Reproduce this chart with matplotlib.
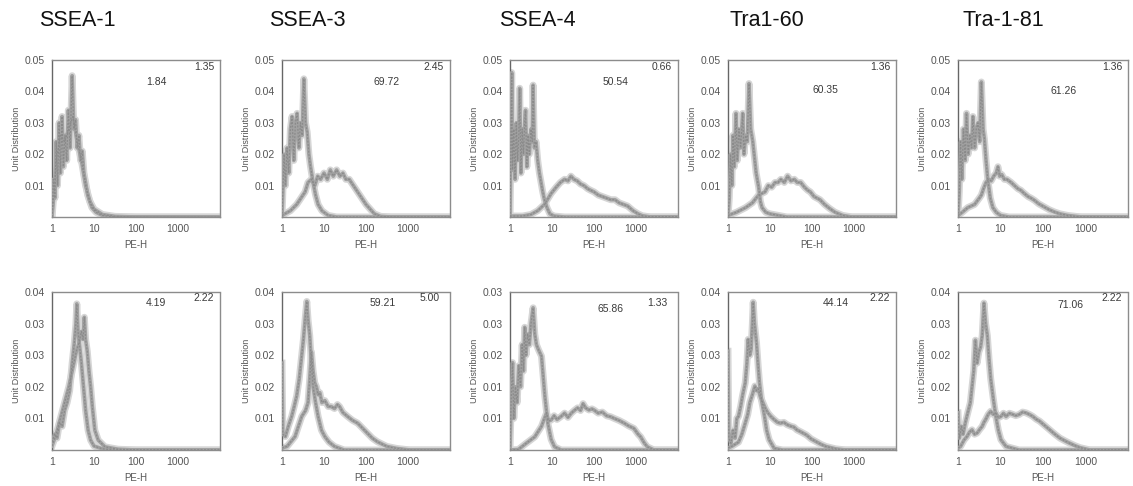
import numpy as np
import matplotlib
matplotlib.use("Agg")
import matplotlib.pyplot as plt

# ---------------- data ----------------
markers = ["SSEA-1", "SSEA-3", "SSEA-4", "Tra1-60", "Tra-1-81"]

# percentages printed in each panel: (main value, corner value)
row1_main = ["1.84", "69.72", "50.54", "60.35", "61.26"]
row1_corner = ["1.35", "2.45", "0.66", "1.36", "1.36"]
row2_main = ["4.19", "59.21", "65.86", "44.14", "71.06"]
row2_corner = ["2.22", "5.00", "1.33", "2.22", "2.22"]

row1_ymax = [0.05, 0.05, 0.05, 0.05, 0.05]
row2_ymax = [0.04, 0.04, 0.03, 0.04, 0.04]

row1_yticklabels = ["0.01", "0.02", "0.03", "0.04", "0.05"]
row2_yticklabels = [["0.01", "0.02", "0.03", "0.03", "0.04"],
                    ["0.01", "0.02", "0.02", "0.03", "0.04"],
                    ["0.01", "0.01", "0.02", "0.03", "0.03"],
                    ["0.01", "0.02", "0.03", "0.03", "0.04"],
                    ["0.01", "0.02", "0.02", "0.03", "0.04"]]
xtick_values = [1, 10, 100, 1000]
xtick_labels = ["1", "10", "100", "1000"]

# curves: log10(PE-H) positions and unit distribution values (x 1e-3)
# ---- row 1 ----
r1c1_ctrl_lx = [0, 0.03, 0.07, 0.1, 0.13, 0.17, 0.2, 0.24, 0.27, 0.31, 0.35, 0.39, 0.43, 0.48, 0.52, 0.56, 0.6, 0.64, 0.68, 0.72, 0.76, 0.8, 0.85, 0.9, 0.95, 1.05, 1.2, 1.5, 4]
r1c1_ctrl_y = [0, 12, 6, 24, 10, 30, 14, 32, 16, 26, 18, 34, 22, 45, 28, 31, 22, 26, 18, 21, 14, 11, 7, 5, 3, 1.5, 0.5, 0, 0]
r1c1_samp_lx = [0, 0.05, 0.1, 0.15, 0.2, 0.3, 0.4, 0.5, 0.6, 0.7, 0.8, 0.9, 1.0, 1.2, 1.5, 2.0, 4]
r1c1_samp_y = [0, 8, 18, 22, 26, 24, 28, 32, 24, 18, 10, 5, 2.5, 0.8, 0.2, 0, 0]

r1c2_ctrl_lx = [0, 0.02, 0.05, 0.08, 0.12, 0.16, 0.2, 0.24, 0.28, 0.32, 0.36, 0.4, 0.44, 0.48, 0.52, 0.56, 0.6, 0.64, 0.68, 0.74, 0.8, 0.86, 0.95, 1.1, 1.3, 4]
r1c2_ctrl_y = [0, 8, 20, 10, 22, 14, 28, 32, 18, 30, 33, 22, 30, 26, 44, 30, 27, 20, 16, 11, 7, 4, 2, 0.5, 0, 0]
r1c2_samp_lx = [0, 0.2, 0.35, 0.45, 0.55, 0.62, 0.7, 0.78, 0.85, 0.92, 1.0, 1.08, 1.15, 1.22, 1.3, 1.38, 1.45, 1.52, 1.6, 1.7, 1.8, 1.9, 2.0, 2.1, 2.2, 2.35, 2.6, 4]
r1c2_samp_y = [0.5, 2, 4, 6, 8, 11, 12, 10, 13, 12, 14, 12, 15, 13, 15, 13, 14, 12, 12, 10, 8, 6, 4, 2.5, 1, 0.2, 0, 0]

r1c3_ctrl_lx = [0, 0.02, 0.04, 0.06, 0.09, 0.12, 0.15, 0.18, 0.21, 0.23, 0.26, 0.29, 0.32, 0.35, 0.37, 0.4, 0.43, 0.46, 0.5, 0.53, 0.55, 0.58, 0.62, 0.66, 0.7, 0.74, 0.78, 0.82, 0.88, 0.95, 1.05, 1.3, 4]
r1c3_ctrl_y = [0, 20, 46, 15, 28, 12, 30, 18, 26, 41, 14, 28, 20, 30, 34, 16, 26, 20, 28, 24, 42, 22, 24, 18, 14, 11, 8, 5.5, 3, 1, 0.3, 0, 0]
r1c3_samp_lx = [0, 0.3, 0.5, 0.66, 0.82, 0.98, 1.1, 1.2, 1.3, 1.38, 1.45, 1.52, 1.6, 1.68, 1.76, 1.85, 1.92, 2.0, 2.1, 2.2, 2.3, 2.4, 2.5, 2.6, 2.7, 2.8, 2.93, 3.05, 3.15, 3.35, 4]
r1c3_samp_y = [0.3, 0.3, 0.8, 2, 4, 7.5, 9.5, 11, 12, 11.5, 13, 12, 11.5, 10.5, 10, 9, 8.5, 8, 7, 6.5, 6, 5.5, 5.5, 4.5, 4, 3.5, 2, 1, 0.4, 0, 0]

r1c4_ctrl_lx = [0, 0.03, 0.06, 0.09, 0.12, 0.15, 0.19, 0.22, 0.26, 0.3, 0.35, 0.38, 0.42, 0.46, 0.5, 0.54, 0.59, 0.63, 0.67, 0.73, 0.77, 0.81, 0.9, 1.0, 1.2, 1.4, 4]
r1c4_ctrl_y = [0, 6, 20, 10, 26, 16, 33, 18, 28, 22, 33, 20, 26, 24, 42.5, 28, 24, 19, 14, 9.5, 5, 3, 1.5, 1, 0.5, 0, 0]
r1c4_samp_lx = [0, 0.2, 0.42, 0.58, 0.73, 0.88, 0.96, 1.04, 1.12, 1.19, 1.26, 1.34, 1.42, 1.5, 1.58, 1.65, 1.73, 1.82, 1.9, 1.96, 2.05, 2.12, 2.19, 2.3, 2.42, 2.55, 2.73, 2.95, 4]
r1c4_samp_y = [0.5, 1.5, 3, 4.5, 7, 8, 10, 9.5, 11, 11, 12, 11, 13, 11.5, 12, 11, 11, 9.5, 8.5, 8, 6.5, 6, 5.5, 4, 2.7, 1.5, 0.5, 0, 0]

r1c5_ctrl_lx = [0, 0.03, 0.06, 0.09, 0.13, 0.17, 0.2, 0.24, 0.28, 0.32, 0.35, 0.39, 0.43, 0.47, 0.51, 0.55, 0.59, 0.62, 0.66, 0.7, 0.76, 0.82, 0.9, 1.0, 1.2, 4]
r1c5_ctrl_y = [0, 8, 24, 12, 28, 18, 33, 20, 26, 22, 32, 22, 28, 30, 24, 43, 28, 25, 18, 12, 6, 3, 1.5, 0.5, 0, 0]
r1c5_samp_lx = [0, 0.1, 0.23, 0.39, 0.5, 0.55, 0.6, 0.66, 0.72, 0.78, 0.84, 0.9, 0.94, 0.98, 1.03, 1.09, 1.15, 1.2, 1.25, 1.33, 1.41, 1.48, 1.56, 1.65, 1.72, 1.8, 1.9, 2.03, 2.15, 2.27, 2.4, 2.58, 2.9, 4]
r1c5_samp_y = [0.5, 1.5, 3, 4, 6, 7, 9, 11, 12, 11.5, 13, 14, 16, 13, 13.5, 12, 12, 11.5, 11, 10, 9, 8.5, 7.5, 6.5, 6, 5.3, 4.2, 3.2, 2.3, 1.6, 1, 0.5, 0, 0]

# ---- row 2 ----
r2c1_ctrl_lx = [0, 0.06, 0.12, 0.18, 0.24, 0.3, 0.36, 0.42, 0.48, 0.53, 0.57, 0.59, 0.62, 0.66, 0.7, 0.75, 0.8, 0.86, 0.92, 1.0, 1.2, 1.5, 4]
r2c1_ctrl_y = [2, 4, 3, 7, 6, 10, 12, 15, 22, 27, 32, 37, 30, 26, 22, 16, 10, 5, 2.5, 1, 0.3, 0, 0]
r2c1_samp_lx = [0, 0.1, 0.2, 0.3, 0.4, 0.5, 0.58, 0.64, 0.7, 0.74, 0.77, 0.8, 0.84, 0.88, 0.92, 0.96, 1.02, 1.1, 1.26, 1.57, 2.0, 4]
r2c1_samp_y = [1, 4, 8, 12, 16, 21, 25, 27, 30, 28, 33.6, 28, 25, 20, 16, 11, 5, 2.5, 0.8, 0.2, 0, 0]

r2c2_ctrl_lx = [0, 0.02, 0.08, 0.15, 0.23, 0.29, 0.35, 0.41, 0.47, 0.51, 0.55, 0.59, 0.62, 0.66, 0.7, 0.74, 0.8, 0.86, 0.94, 1.02, 1.12, 1.25, 1.48, 4]
r2c2_ctrl_y = [22, 4, 3.4, 6, 8.5, 11, 13.7, 18, 24, 28, 33, 37.6, 33, 29, 22, 16, 12, 8.5, 5, 3.4, 2, 0.9, 0, 0]
r2c2_samp_lx = [0, 0.12, 0.31, 0.47, 0.56, 0.62, 0.66, 0.7, 0.74, 0.78, 0.82, 0.86, 0.9, 0.95, 1.02, 1.1, 1.17, 1.25, 1.32, 1.37, 1.45, 1.56, 1.68, 1.8, 1.92, 2.03, 2.15, 2.27, 2.4, 2.5, 2.73, 3.05, 4]
r2c2_samp_y = [0.5, 0.9, 3.4, 8.5, 10, 12, 18, 24.8, 20, 17, 16, 14, 14.5, 12, 12.5, 11, 11, 10.5, 11.5, 11, 9.5, 8.5, 7.5, 6.8, 5.5, 4.3, 3, 2.1, 1.4, 0.9, 0.4, 0, 0]

r2c3_ctrl_lx = [0, 0.03, 0.06, 0.09, 0.13, 0.17, 0.21, 0.25, 0.29, 0.32, 0.35, 0.38, 0.42, 0.46, 0.5, 0.55, 0.59, 0.63, 0.68, 0.75, 0.79, 0.83, 0.9, 0.98, 1.06, 1.22, 4]
r2c3_ctrl_y = [0, 10, 16.6, 6, 12, 9, 16, 12, 20, 15, 23.3, 18, 22, 20, 24, 27, 22, 20, 19, 17.8, 14, 10.2, 5.1, 2, 0.6, 0, 0]
r2c3_samp_lx = [0, 0.2, 0.39, 0.59, 0.75, 0.82, 0.87, 0.92, 0.98, 1.05, 1.12, 1.22, 1.3, 1.38, 1.46, 1.53, 1.61, 1.68, 1.74, 1.8, 1.88, 1.95, 2.0, 2.1, 2.2, 2.3, 2.4, 2.48, 2.6, 2.72, 2.82, 2.95, 3.05, 3.11, 3.2, 3.27, 3.43, 4]
r2c3_samp_y = [0, 0.1, 1.3, 2.5, 4.5, 6, 7, 5.5, 5.7, 6.5, 5.8, 6.4, 7, 6.2, 7, 7.5, 8, 7.5, 8.8, 8, 7.6, 7.8, 7.6, 7, 7.2, 6.5, 6.3, 6, 5.6, 5.1, 4.6, 4.1, 3, 2.5, 1.3, 0.6, 0, 0]

r2c4_ctrl_lx = [0, 0.02, 0.07, 0.12, 0.17, 0.21, 0.25, 0.3, 0.35, 0.41, 0.45, 0.48, 0.52, 0.55, 0.58, 0.6, 0.63, 0.68, 0.72, 0.75, 0.8, 0.87, 0.92, 0.98, 1.1, 1.3, 4]
r2c4_ctrl_y = [25, 3, 1.7, 5, 3, 8, 8.5, 11, 14, 17, 22, 28, 24, 25.5, 32, 37.4, 32, 27, 21, 17, 12.5, 8.5, 5, 2.6, 0.4, 0, 0]
r2c4_samp_lx = [0, 0.1, 0.25, 0.33, 0.41, 0.47, 0.52, 0.58, 0.64, 0.68, 0.72, 0.77, 0.83, 0.89, 0.95, 1.02, 1.1, 1.18, 1.25, 1.33, 1.41, 1.5, 1.57, 1.64, 1.75, 1.87, 1.98, 2.1, 2.22, 2.33, 2.56, 2.8, 4]
r2c4_samp_y = [0.5, 1, 2, 4, 6.8, 9, 12, 14, 16.2, 15, 15.5, 13.5, 12, 10.5, 9.4, 8.5, 7.7, 7, 6.8, 7, 6.4, 6, 5.8, 5.1, 4.5, 3.8, 2.8, 2.1, 1.4, 0.9, 0.3, 0, 0]

r2c5_ctrl_lx = [0, 0.03, 0.08, 0.12, 0.17, 0.22, 0.29, 0.33, 0.37, 0.41, 0.45, 0.49, 0.53, 0.57, 0.61, 0.65, 0.69, 0.73, 0.77, 0.83, 0.89, 0.95, 1.01, 1.13, 1.44, 4]
r2c5_ctrl_y = [9.4, 3, 6, 4, 6.8, 9, 12, 16, 20, 27.8, 22, 24.8, 26, 29, 37.2, 32, 29, 23, 18, 13, 8.5, 5, 2.6, 0.9, 0, 0]
r2c5_samp_lx = [0, 0.06, 0.14, 0.21, 0.27, 0.33, 0.39, 0.45, 0.51, 0.57, 0.61, 0.65, 0.71, 0.77, 0.83, 0.89, 0.95, 1.01, 1.07, 1.13, 1.21, 1.29, 1.36, 1.44, 1.52, 1.6, 1.68, 1.76, 1.84, 1.92, 2.04, 2.16, 2.28, 2.4, 2.52, 2.63, 2.75, 2.87, 3.11, 4]
r2c5_samp_y = [0.5, 0.9, 2.5, 3.4, 4.5, 5.1, 4, 4.3, 5.2, 6, 7, 7.7, 9, 9.8, 9, 9.4, 8.2, 8.5, 9.3, 8.5, 9.3, 9, 8.7, 9, 9.6, 9.4, 9, 8.5, 7.8, 7.3, 6.2, 5.1, 4, 3, 2.3, 1.7, 1.1, 0.6, 0, 0]

row1_curves = [
    ((r1c1_ctrl_lx, r1c1_ctrl_y), (r1c1_samp_lx, r1c1_samp_y)),
    ((r1c2_ctrl_lx, r1c2_ctrl_y), (r1c2_samp_lx, r1c2_samp_y)),
    ((r1c3_ctrl_lx, r1c3_ctrl_y), (r1c3_samp_lx, r1c3_samp_y)),
    ((r1c4_ctrl_lx, r1c4_ctrl_y), (r1c4_samp_lx, r1c4_samp_y)),
    ((r1c5_ctrl_lx, r1c5_ctrl_y), (r1c5_samp_lx, r1c5_samp_y)),
]
row2_curves = [
    ((r2c1_ctrl_lx, r2c1_ctrl_y), (r2c1_samp_lx, r2c1_samp_y)),
    ((r2c2_ctrl_lx, r2c2_ctrl_y), (r2c2_samp_lx, r2c2_samp_y)),
    ((r2c3_ctrl_lx, r2c3_ctrl_y), (r2c3_samp_lx, r2c3_samp_y)),
    ((r2c4_ctrl_lx, r2c4_ctrl_y), (r2c4_samp_lx, r2c4_samp_y)),
    ((r2c5_ctrl_lx, r2c5_ctrl_y), (r2c5_samp_lx, r2c5_samp_y)),
]

# ---------------- layout (pixels) ----------------
W, H = 1133, 486
col_left = [52, 282, 510, 728, 958]
col_width = [168, 168, 168, 168, 170]
row_top = [60, 292]
row_height = [157, 158]
title_x = [77, 307, 537, 767, 1003]
title_y = 20
main_pos_r1 = [(0.62, 0.86), (0.62, 0.86), (0.63, 0.86), (0.58, 0.81), (0.62, 0.80)]
main_pos_r2 = [(0.62, 0.93), (0.60, 0.93), (0.60, 0.89), (0.64, 0.93), (0.66, 0.92)]
corner_pos_r1 = [(0.965, 0.955)] * 5
corner_pos_r2 = [(0.965, 0.96), (0.94, 0.96), (0.94, 0.93), (0.965, 0.96), (0.965, 0.96)]

plt.rcParams['font.family'] = ['Liberation Sans', 'DejaVu Sans']
fig = plt.figure(figsize=(W / 100, H / 100), dpi=100)
fig.patch.set_facecolor('white')

txt_col = '#555555'
frame_col = '#8c8c8c'


def draw_curve(ax, lx, y):
    xv = 10 ** np.asarray(lx, dtype=float)
    yv = np.asarray(y, dtype=float) / 1000.0
    ax.plot(xv, yv, color='#d6d6d6', lw=5.0, solid_joinstyle='round', zorder=2)
    ax.plot(xv, yv, color='#a2a2a2', lw=2.6, solid_joinstyle='round', zorder=3)
    ax.plot(xv, yv, color='#8a8a8a', lw=0.9, linestyle=(0, (1.5, 1.2)), zorder=4)


for r in range(2):
    curves = row1_curves if r == 0 else row2_curves
    ymaxes = row1_ymax if r == 0 else row2_ymax
    mains = row1_main if r == 0 else row2_main
    corners = row1_corner if r == 0 else row2_corner
    mpos = main_pos_r1 if r == 0 else main_pos_r2
    cpos = corner_pos_r1 if r == 0 else corner_pos_r2
    for c in range(5):
        left = col_left[c] / W
        bottom = 1 - (row_top[r] + row_height[r]) / H
        ax = fig.add_axes([left, bottom, col_width[c] / W, row_height[r] / H])
        ax.set_xscale('log')
        ax.set_xlim(1, 10000)
        ymax = ymaxes[c]
        ax.set_ylim(0, ymax)
        (clx, cy), (slx, sy) = curves[c]
        draw_curve(ax, slx, sy)
        draw_curve(ax, clx, cy)
        for s in ax.spines.values():
            s.set_linestyle((0, (1, 1)))
            s.set_color(frame_col)
            s.set_linewidth(1.0)
        ax.spines['left'].set_linestyle('-')
        ax.spines['left'].set_color('#666666')
        ax.set_xticks(xtick_values)
        ax.set_xticklabels(xtick_labels)
        ax.xaxis.set_minor_locator(matplotlib.ticker.NullLocator())
        yt = [ymax * k / 5 for k in range(1, 6)]
        ax.set_yticks(yt)
        ax.set_yticklabels(row1_yticklabels if r == 0 else row2_yticklabels[c])
        ax.tick_params(axis='both', length=0, labelsize=7.5, colors=txt_col, pad=5)
        ax.set_xlabel('PE-H', fontsize=7, color=txt_col, labelpad=4)
        ax.set_ylabel('Unit Distribution', fontsize=6.5, color=txt_col, labelpad=3)
        ax.text(mpos[c][0], mpos[c][1], mains[c], transform=ax.transAxes,
                fontsize=7.5, color='#3a3a3a', ha='center', va='center')
        ax.text(cpos[c][0], cpos[c][1], corners[c], transform=ax.transAxes,
                fontsize=7.5, color='#3a3a3a', ha='right', va='center')

for c in range(5):
    fig.text(title_x[c] / W, 1 - title_y / H, markers[c], fontsize=15.5,
             ha='center', va='center', color='#111111')

fig.savefig('out.png', dpi=100, facecolor='white')
